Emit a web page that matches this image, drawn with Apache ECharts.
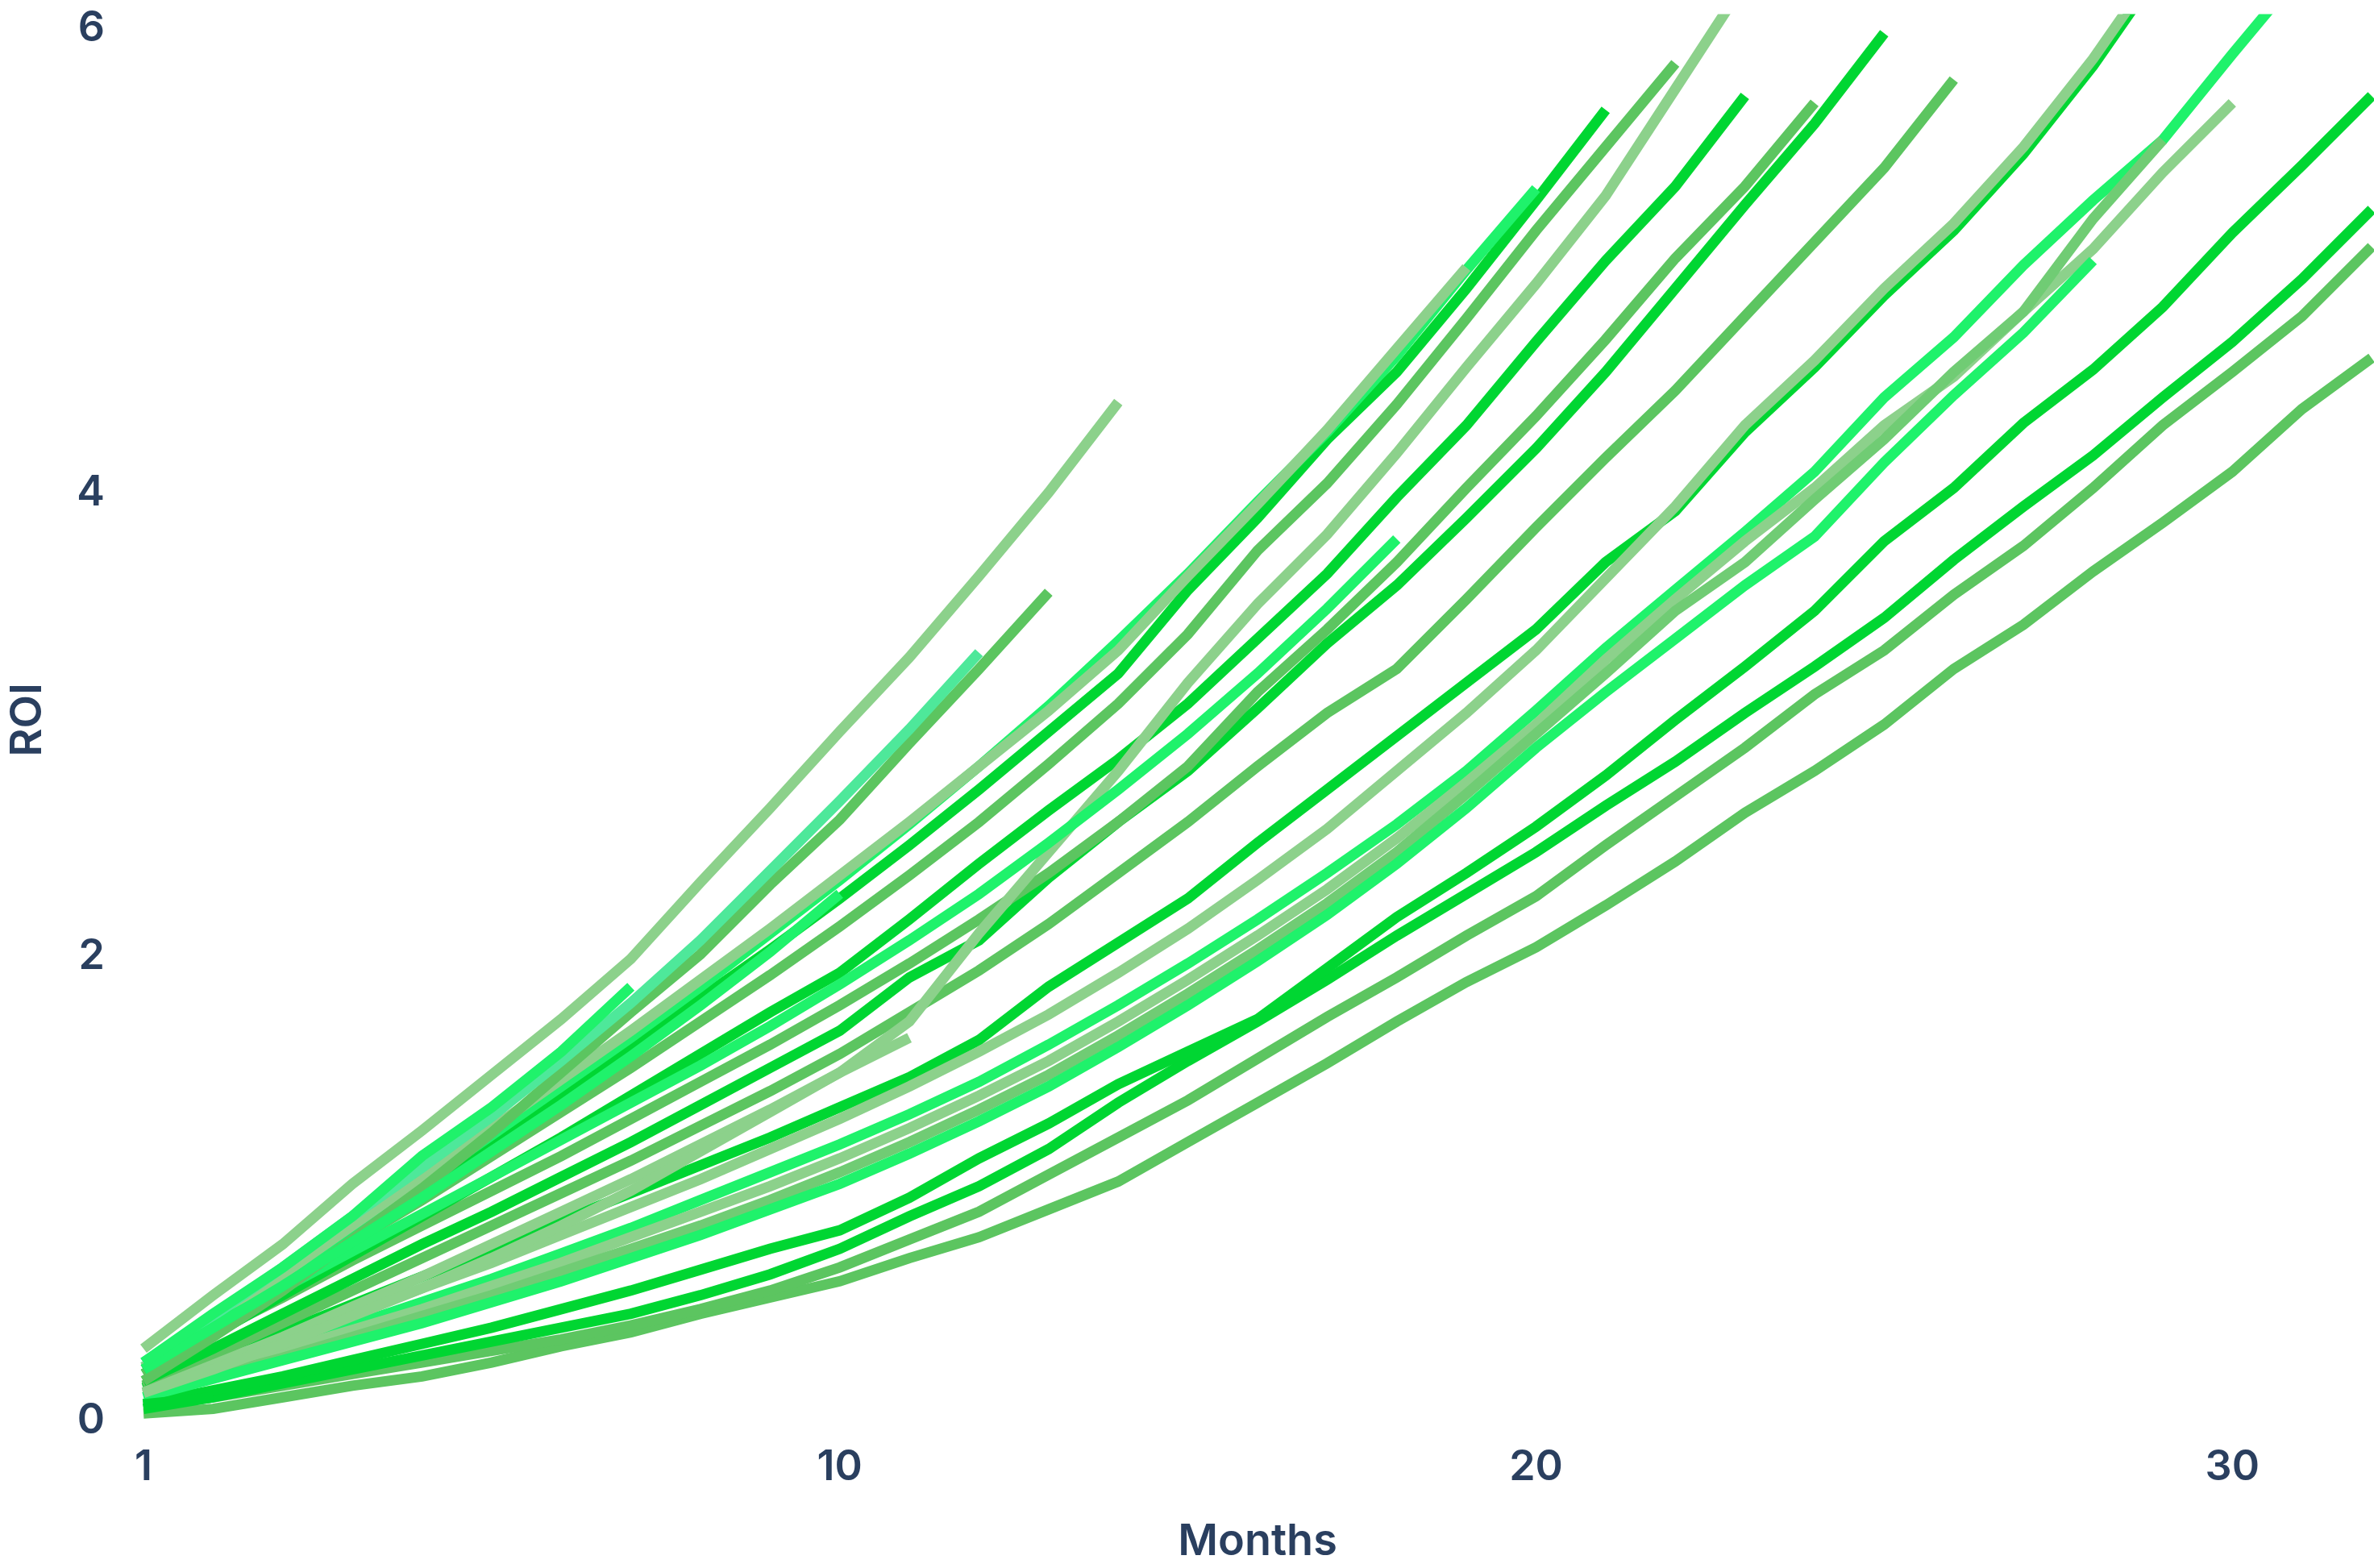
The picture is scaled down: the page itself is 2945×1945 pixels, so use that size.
<!DOCTYPE html>
<html><head><meta charset="utf-8">
<script src="https://cdn.jsdelivr.net/npm/echarts@6/dist/echarts.min.js"></script>
<style>html,body{margin:0;padding:0;background:#fff}#c{width:2945px;height:1945px}</style>
</head><body><div id="c"></div>
<script>
// Tick labels
const xTickValues = [0, 10, 20, 30];
const xTickLabels = ['1', '10', '20', '30'];
const yTickValues = [0, 2, 4, 6];

// Colours
const BRIGHT = '#00d632', MID = '#5cc560', LIGHT = '#8cd18b', MINT = '#1ff26b', TEAL = '#4ee89a', MIDLIGHT = '#70cc74';

// ROI per month (index 0 = month 1)
const c01 = [0.07, 0.10];
const c02 = [0.25,0.46,0.66,0.88,1.14,1.35,1.59,1.87];
const c03 = [0.22,0.40,0.58,0.77,0.96,1.16,1.36,1.57,1.79,2.02,2.27];
const c04 = [0.12,0.22,0.33,0.45,0.57,0.70,0.84,0.99,1.16,1.33,1.50,1.65];
const c05 = [0.25,0.45,0.66,0.88,1.09,1.31,1.55,1.80,2.07,2.37,2.67,2.98,3.31];
const c06 = [0.17,0.36,0.56,0.78,1.00,1.24,1.50,1.76,2.01,2.31,2.59,2.92,3.24,3.57];
const c07 = [0.31,0.54,0.76,1.02,1.25,1.49,1.73,1.99,2.32,2.64,2.97,3.29,3.64,4.00,4.39];
const c08 = [0.25,0.41,0.57,0.73,0.89,1.05,1.21,1.37,1.53,1.70,1.88,2.07,2.27,2.49,2.72,2.96,3.22,3.50,3.80];
const c09 = [0.23,0.43,0.63,0.84,1.05,1.26,1.47,1.68,1.90,2.12,2.35,2.58,2.82,3.06,3.32,3.64,3.95,4.27,4.62,4.97];
const c10 = [0.23,0.42,0.62,0.82,1.02,1.23,1.44,1.65,1.87,2.10,2.33,2.57,2.82,3.08,3.36,3.65,3.96,4.26,4.59,4.96,5.31];
const c11 = [0.22,0.41,0.60,0.80,1.00,1.20,1.40,1.61,1.82,2.03,2.25,2.48,2.72,2.97,3.22,3.58,3.89,4.23,4.52,4.88,5.26,5.65];
const c12 = [0.20,0.39,0.58,0.77,0.95,1.14,1.33,1.52,1.72,1.92,2.13,2.35,2.58,2.83,3.09,3.39,3.75,4.04,4.38,4.75,5.13,5.49,5.85];
const c13 = [0.12,0.24,0.36,0.49,0.62,0.76,0.90,1.04,1.19,1.34,1.50,1.72,2.10,2.45,2.80,3.18,3.52,3.82,4.17,4.54,4.90,5.28,5.74,6.20];
const c14 = [0.20,0.37,0.54,0.71,0.88,1.05,1.22,1.40,1.58,1.76,1.93,2.16,2.40,2.63,2.85,3.09,3.37,3.65,3.98,4.29,4.65,5.00,5.32,5.71];
const c15 = [0.22,0.38,0.53,0.69,0.84,0.99,1.14,1.30,1.46,1.62,1.79,1.97,2.16,2.36,2.58,2.82,3.14,3.41,3.70,4.02,4.33,4.66,5.01,5.32,5.68];
const c16 = [0.17,0.31,0.46,0.61,0.76,0.90,1.05,1.20,1.36,1.52,1.68,1.91,2.07,2.34,2.58,2.80,3.07,3.35,3.60,3.89,4.19,4.52,4.88,5.24,5.59,5.98];
const c17 = [0.15,0.28,0.42,0.56,0.70,0.84,0.98,1.12,1.27,1.42,1.58,1.76,1.94,2.14,2.36,2.58,2.82,3.05,3.24,3.54,3.85,4.15,4.44,4.76,5.08,5.40,5.78];
const c18 = [0.14,0.26,0.38,0.50,0.62,0.74,0.86,0.98,1.10,1.22,1.35,1.48,1.64,1.87,2.06,2.25,2.49,2.72,2.95,3.18,3.41,3.70,3.92,4.26,4.54,4.85,5.13,5.46,5.84,6.27];
const c19 = [0.10,0.18,0.26,0.34,0.42,0.51,0.60,0.70,0.80,0.91,1.02,1.15,1.29,1.44,1.61,1.79,1.98,2.18,2.40,2.64,2.90,3.14,3.37,3.60,3.81,4.13,4.42,4.69,5.00];
const c20 = [0.15,0.25,0.35,0.46,0.57,0.68,0.80,0.92,1.04,1.17,1.30,1.44,1.59,1.75,1.93,2.12,2.33,2.55,2.80,3.05,3.32,3.63,3.94,4.29,4.57,4.88,5.16,5.49,5.87,6.30];
const c21 = [0.11,0.19,0.27,0.36,0.45,0.54,0.64,0.74,0.84,0.95,1.07,1.20,1.34,1.49,1.66,1.84,2.03,2.23,2.45,2.70,2.96,3.22,3.49,3.70,3.97,4.23,4.52,4.78,5.18,5.52];
const c22 = [0.13,0.21,0.30,0.39,0.48,0.58,0.68,0.79,0.90,1.01,1.13,1.26,1.40,1.55,1.72,1.90,2.09,2.29,2.51,2.75,3.00,3.28,3.54,3.79,4.02,4.29,4.50,4.78,5.05,5.38,5.68];
const c23 = [0.14,0.23,0.32,0.41,0.51,0.61,0.72,0.83,0.95,1.07,1.19,1.32,1.46,1.62,1.79,1.97,2.16,2.36,2.57,2.80,3.06,3.33,3.58,3.83,4.09,4.41,4.67,4.98,5.26,5.52,5.89,6.25];
const c24 = [0.07,0.13,0.19,0.26,0.33,0.40,0.48,0.56,0.65,0.74,0.82,0.96,1.13,1.28,1.45,1.59,1.73,1.95,2.17,2.36,2.56,2.78,3.02,3.25,3.49,3.79,4.02,4.30,4.53,4.80,5.12,5.41,5.71];
const c25 = [0.05,0.10,0.16,0.22,0.28,0.34,0.40,0.46,0.54,0.63,0.74,0.88,1.01,1.17,1.37,1.55,1.72,1.90,2.09,2.27,2.45,2.65,2.84,3.05,3.25,3.46,3.71,3.94,4.16,4.41,4.65,4.92,5.22];
const c26 = [0.06,0.10,0.15,0.20,0.25,0.30,0.35,0.41,0.48,0.56,0.66,0.78,0.90,1.06,1.22,1.38,1.56,1.74,1.91,2.09,2.26,2.48,2.69,2.90,3.13,3.32,3.56,3.77,4.02,4.29,4.52,4.76,5.06];
const c27 = [0.03,0.05,0.10,0.15,0.19,0.25,0.32,0.38,0.46,0.53,0.60,0.70,0.79,0.91,1.03,1.20,1.37,1.54,1.72,1.89,2.04,2.22,2.41,2.62,2.80,3.00,3.24,3.43,3.66,3.87,4.09,4.36,4.58];

const cohorts = [c27,c26,c25,c24,c23,c22,c21,c19,c18,c20,c17,c16,c15,c14,c13,c12,c11,c10,c09,c08,c07,c06,c05,c04,c03,c02,c01];
const cohortColors = [MID,MID,BRIGHT,BRIGHT,MINT,LIGHT,MIDLIGHT,MINT,BRIGHT,LIGHT,MID,BRIGHT,MID,BRIGHT,LIGHT,MID,BRIGHT,MINT,LIGHT,MINT,LIGHT,MID,TEAL,LIGHT,MINT,MINT,BRIGHT];

const FONT = 'Inter, "Open Sans", sans-serif';
const chart = echarts.init(document.getElementById('c'));
chart.setOption({
  animation: false,
  backgroundColor: '#ffffff',
  grid: { left: 165, right: 0, top: 24, bottom: 180, containLabel: false },
  xAxis: {
    type: 'value', min: 0, max: 32, interval: 10,
    name: 'Months', nameLocation: 'middle', nameGap: 124,
    nameTextStyle: { color: '#2a3f5f', fontSize: 54, fontWeight: 600, fontFamily: FONT },
    axisLine: { show: false }, axisTick: { show: false }, splitLine: { show: false },
    axisLabel: {
      margin: 32, color: '#2a3f5f', fontSize: 52, fontWeight: 600, fontFamily: FONT,
      formatter: v => { const k = xTickValues.indexOf(v); return k >= 0 ? xTickLabels[k] : ''; }
    }
  },
  yAxis: {
    type: 'value', min: 0, max: 6.04, interval: 2,
    name: 'ROI', nameLocation: 'middle', nameGap: 116, nameRotate: 90,
    nameTextStyle: { color: '#2a3f5f', fontSize: 54, fontWeight: 600, fontFamily: FONT },
    axisLine: { show: false }, axisTick: { show: false }, splitLine: { show: false },
    axisLabel: {
      margin: 48, color: '#2a3f5f', fontSize: 52, fontWeight: 600, fontFamily: FONT,
      formatter: v => yTickValues.indexOf(v) >= 0 ? String(v) : ''
    }
  },
  series: cohorts.map((arr, k) => ({
    type: 'line', name: 'Cohort ' + (k + 1), showSymbol: false, symbol: 'none',
    clip: true, silent: true,
    lineStyle: { width: 13, color: cohortColors[k], cap: 'butt', join: 'miter' },
    data: arr.map((v, i) => [i, v])
  }))
});
</script></body></html>
